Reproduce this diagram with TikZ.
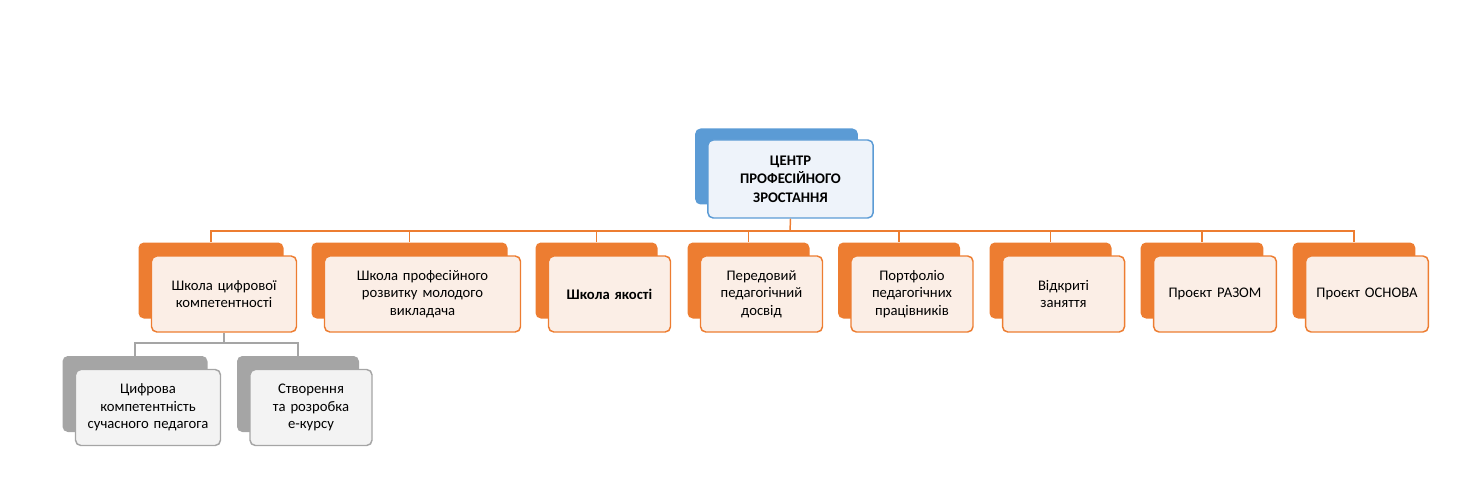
\documentclass[tikz,border=0pt]{standalone}
\usepackage{fontspec}
\setmainfont{Carlito}
\definecolor{blu}{HTML}{5B9BD5}
\definecolor{blul}{HTML}{EEF3FA}
\definecolor{org}{HTML}{ED7D31}
\definecolor{orgl}{HTML}{FBEEE6}
\definecolor{gry}{HTML}{A5A5A5}
\definecolor{gryl}{HTML}{F3F3F3}
\begin{document}
\begin{tikzpicture}[x=0.75pt,y=-0.75pt,
 back/.style={rounded corners=4pt,fill=#1,draw=none,minimum height=57pt,inner sep=0pt},
 front/.style={rounded corners=4pt,draw=#1,line width=1.1pt,minimum height=57pt,inner sep=2pt,align=center,font=\fontsize{11}{13}\selectfont},
 ln/.style={draw=#1,line width=1.1pt}]
\useasboundingbox (0,0) rectangle (1476,495);
% root
\node[back=blu,minimum width=122pt] (rb) at (776.5,166.5) {};
\node[front=blu,fill=blul,minimum width=124pt,minimum height=58.5pt,text width=110pt,font=\fontsize{11}{14}\selectfont\bfseries] (r) at (790.5,179) {ЦЕНТР\\ПРОФЕСІЙНОГО\\ЗРОСТАННЯ};
\coordinate (bus) at (790,231);
\draw[ln=org] (r.south) -- (bus);
% children: name, back center x, width pt, text
\foreach \n/\x/\w/\t in {c1/211/108.75/{Школа цифрової компетентності},
  c2/409.5/147/{Школа професійного розвитку молодого викладача},
  c3/596.5/91.5/{\textbf{Школа якості}},
  c4/748.5/91.5/{Передовий педагогічний досвід},
  c5/899/91.5/{Портфоліо педагогічних працівників},
  c6/1050.5/91.5/{Відкриті заняття},
  c7/1202/92/{Проєкт РАЗОМ},
  c8/1354/92/{Проєкт ОСНОВА}}{
  \node[back=org,minimum width=\w pt] (\n b) at (\x,280.5) {};
  \node[front=org,fill=orgl,minimum width=\w pt,text width=\w pt-16pt] (\n) at (\x+13,294) {\t};
  \draw[ln=org] (bus) -| (\n b.north);
}
\coordinate (gbus) at (224,343);
\draw[ln=gry] (c1.south) -- (gbus);
\node[back=gry,minimum width=108.75pt] (g1b) at (135,394) {};
\node[front=gry,fill=gryl,minimum width=108.75pt,text width=95pt] (g1) at (148,407.5) {Цифрова компетентність сучасного педагога};
\node[back=gry,minimum width=91.5pt] (g2b) at (298,394) {};
\node[front=gry,fill=gryl,minimum width=91.5pt,text width=75pt] (g2) at (311,407.5) {Створення та розробка е-курсу};
\draw[ln=gry] (gbus) -| (g1b.north);
\draw[ln=gry] (gbus) -| (g2b.north);
\end{tikzpicture}
\end{document}
